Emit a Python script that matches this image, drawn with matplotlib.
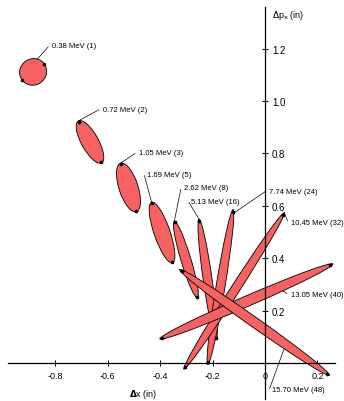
import numpy as np
import matplotlib
matplotlib.use("Agg")
import matplotlib.pyplot as plt
from matplotlib.patches import Ellipse

plt.rcParams["font.family"] = ["Liberation Sans", "DejaVu Sans"]

# beam energy at the cell where each phase-space ellipse was taken
energy_mev = [0.38, 0.72, 1.05, 1.69, 2.62, 5.13, 7.74, 10.45, 13.05, 15.70]
cell_no = [1, 2, 3, 5, 8, 16, 24, 32, 40, 48]

# ellipse centre (dx, dpx in inches), full axes (in), tilt of the major axis (deg)
center_x = [-0.885, -0.668, -0.521, -0.393, -0.302, -0.219, -0.170, -0.118, -0.071, -0.040]
center_p = [1.111, 0.844, 0.670, 0.498, 0.395, 0.319, 0.290, 0.275, 0.235, 0.155]
major = [0.105, 0.183, 0.195, 0.244, 0.305, 0.465, 0.600, 0.710, 0.720, 0.700]
minor = [0.100, 0.065, 0.0725, 0.061, 0.038, 0.034, 0.034, 0.034, 0.040, 0.038]
tilt = [35, 119, 108, 109, 106.8, 98.1, 80.7, 57.3, 23.4, 144.8]

x_ticks = [-0.8, -0.6, -0.4, -0.2, 0.0, 0.2]
x_ticklabels = ["-0.8", "-0.6", "-0.4", "-0.2", "0", "0.2"]
y_ticks = [0.2, 0.4, 0.6, 0.8, 1.0, 1.2]
y_ticklabels = ["0.2", "0.4", "0.6", "0.8", "1.0", "1.2"]

# label placement (left edge of text) and where the leader meets the ellipse
label_pos = [(-0.813, 1.210), (-0.618, 0.969), (-0.481, 0.802), (-0.450, 0.721),
             (-0.309, 0.668), (-0.282, 0.618), (0.015, 0.656), (0.099, 0.538),
             (0.099, 0.263), (0.027, -0.103)]
attach = [(0.79, 1), (1, 0), (1, 0), (1, 0), (1, 0), (1, 0), (0.95, -0.5),
          (1, 0), (0.4, -1), (-0.43, 1)]

FILL = "#f66161"


def on_ellipse(i, t, s):
    """Point on ellipse i: t along the major axis, s across (both -1..1)."""
    th = np.radians(tilt[i])
    u = np.array([np.cos(th), np.sin(th)])
    v = np.array([-np.sin(th), np.cos(th)])
    c = np.array([center_x[i], center_p[i]])
    return c + t * major[i] / 2 * u + s * minor[i] / 2 * np.sqrt(max(0, 1 - t * t)) * v


fig = plt.figure(figsize=(3.44, 4.02), dpi=100)
ax = fig.add_axes([0, 0, 1, 1])
ax.set_xlim(-265 / 262, 79 / 262)
ax.set_ylim(-38 / 262, 364 / 262)

for i in range(len(energy_mev)):
    ax.add_patch(Ellipse((center_x[i], center_p[i]), major[i], minor[i], angle=tilt[i],
                         facecolor=FILL, edgecolor="black", linewidth=0.6, zorder=2 + i * 0.01))
    ends = np.array([on_ellipse(i, 0.97, 0), on_ellipse(i, -0.97, 0)])
    ax.plot(ends[:, 0], ends[:, 1], "o", color="black", markersize=1.6, zorder=3)

    ax.annotate(f"{energy_mev[i]:.2f} MeV ({cell_no[i]})",
                xy=on_ellipse(i, *attach[i]), xytext=label_pos[i],
                ha="left", va="center", fontsize=5.5,
                arrowprops=dict(arrowstyle="-", lw=0.5, color="black", relpos=(0, 0.5),
                                shrinkA=1, shrinkB=0,
                                connectionstyle="arc,angleA=180,armA=3,angleB=0,armB=0,rad=0"),
                zorder=4)

# axes drawn through the origin
ax.spines["top"].set_visible(False)
ax.spines["left"].set_visible(False)
ax.spines["bottom"].set_position(("data", 0))
ax.spines["bottom"].set_bounds(-0.981, 0.267)
ax.spines["right"].set_position(("data", 0))
ax.spines["right"].set_bounds(-0.137, 1.359)
for sp in ("bottom", "right"):
    ax.spines[sp].set_linewidth(0.9)
ax.yaxis.tick_right()
ax.set_xticks(x_ticks, x_ticklabels)
ax.set_yticks(y_ticks, y_ticklabels)
ax.tick_params(axis="x", direction="inout", length=4, width=0.7, labelsize=6.5, pad=3.5)
ax.tick_params(axis="y", direction="inout", length=4, width=0.7, labelsize=7, pad=3)

ax.text(0.027, 1.332, r"$\Delta$p$_{\rm x}$ (in)", fontsize=6.5, ha="left", va="center")
ax.text(-0.466, -0.118, r"$\mathbf{\Delta}$x (in)", fontsize=6.5, ha="center", va="center")

fig.savefig("out.png", dpi=100)
